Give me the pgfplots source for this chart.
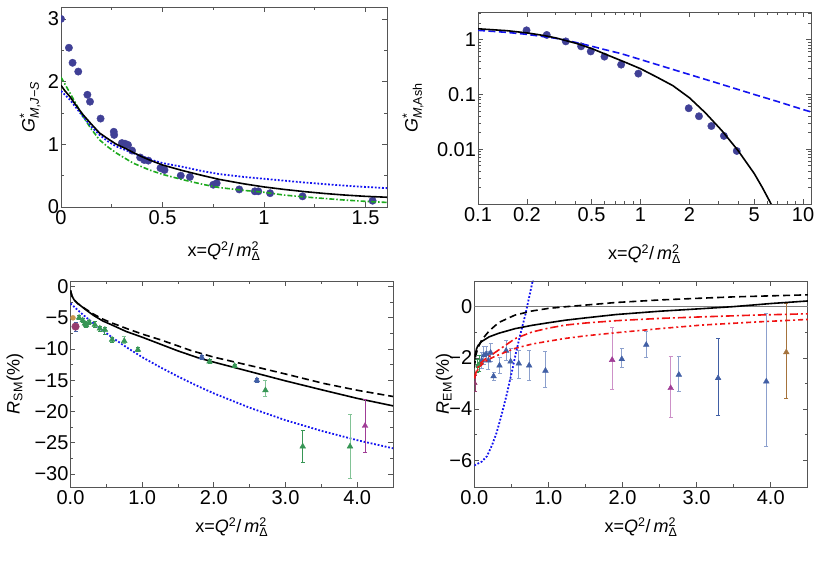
\documentclass[border=0pt]{standalone}
\usepackage{fontspec}
\setmainfont{Liberation Sans}
\usepackage{pgfplots}
\pgfplotsset{compat=1.18}
\definecolor{dotblue}{RGB}{64,64,150}
\definecolor{cgreen}{RGB}{30,170,30}
\definecolor{cblue}{RGB}{20,20,240}
\definecolor{cred}{RGB}{240,20,20}
\definecolor{framec}{RGB}{85,85,85}
\definecolor{tgreen}{RGB}{55,150,85}
\definecolor{tgreenl}{RGB}{130,195,150}
\definecolor{tblue}{RGB}{65,95,165}
\definecolor{tbluel}{RGB}{140,160,205}
\definecolor{tmag}{RGB}{160,60,150}
\definecolor{tmagl}{RGB}{205,145,200}
\definecolor{tbrown}{RGB}{165,115,60}
\definecolor{tpurp}{RGB}{150,60,110}
\definecolor{torange}{RGB}{200,150,80}
\newcommand{\scr}[1]{\mbox{\fontsize{12.5}{12.5}\selectfont #1}}
\pgfplotsset{mma/.style={scale only axis,
  axis line style={framec, line width=0.9pt},
  tick align=inside,
  every tick/.style={framec, line width=0.7pt},
  major tick length=5pt, minor tick length=3pt,
  ticklabel style={font=\fontsize{20}{20}\selectfont, text=black},
  yticklabel style={xshift=1.5pt},
  label style={font=\fontsize{18}{20}\selectfont},
  /pgf/number format/assume math mode=true,
  clip marker paths=true},
  errs/.style={error bars/.cd, y dir=both, y explicit,
    error bar style={#1, line width=1pt},
    error mark options={rotate=90, mark size=2pt, #1, line width=0.8pt}}}
\begin{document}
\begin{tikzpicture}
\path[use as bounding box] (0,0) rectangle (821pt,575pt);
% ---------------- top left
\begin{axis}[mma, at={(61pt,368pt)}, anchor=south west, width=326pt, height=200pt,
  xmin=0, xmax=1.606, ymin=0, ymax=3.19,
  xtick={0,0.5,1,1.5}, xticklabels={0,0.5,1,1.5}, minor xtick={0.25,0.75,1.25},
  ytick={0,1,2,3}, yticklabels={0,1,2,3}, minor ytick={0.5,1.5,2.5},
  xlabel={x=\textit{Q}$^{\scr{2}}$/\,\textit{m}$^{\scr{2}}_{\scr{Δ}}$},
  ylabel={\textit{G}$^{\scr{*}}_{\scr{\itshape M,J−S}}$},
  xlabel style={at={(axis description cs:0.5,-0.22)}, anchor=center},
  ylabel style={at={(axis description cs:-0.095,0.5)}, anchor=center}]
\addplot[only marks, mark=*, mark size=3.7pt, dotblue, mark options={draw=none, fill=dotblue}] coordinates {
(0,3.0)(0.039,2.54)(0.057,2.30)(0.085,2.16)(0.13,1.79)(0.143,1.68)(0.195,1.41)(0.26,1.20)(0.262,1.15)
(0.30,1.02)(0.315,1.01)(0.33,0.99)(0.35,0.90)(0.39,0.79)(0.41,0.75)(0.43,0.74)(0.49,0.62)(0.51,0.59)
(0.59,0.50)(0.635,0.48)(0.75,0.355)(0.767,0.38)(0.878,0.28)(0.955,0.25)(0.972,0.25)(1.03,0.22)(1.19,0.17)(1.535,0.10)};
\addplot[cgreen, line width=1.6pt, dash pattern=on 5pt off 2pt on 1.5pt off 2pt] coordinates {
(0,2.07)(0.044,1.82)(0.109,1.44)(0.15,1.24)(0.19,1.07)(0.23,0.96)(0.273,0.86)(0.355,0.70)(0.436,0.59)
(0.5,0.52)(0.6,0.435)(0.7,0.36)(0.78,0.31)(0.9,0.265)(1.0,0.235)(1.1,0.19)(1.2,0.16)(1.3,0.135)(1.4,0.11)(1.5,0.09)(1.61,0.072)};
\addplot[cblue, line width=1.8pt, dash pattern=on 1.8pt off 1.8pt] coordinates {
(0,1.85)(0.044,1.71)(0.109,1.44)(0.15,1.28)(0.19,1.15)(0.23,1.05)(0.273,0.965)(0.355,0.86)(0.436,0.76)
(0.5,0.70)(0.6,0.64)(0.7,0.57)(0.78,0.525)(0.9,0.48)(1.0,0.45)(1.1,0.42)(1.2,0.39)(1.3,0.365)(1.4,0.34)(1.5,0.32)(1.61,0.30)};
\addplot[black, line width=1.6pt] coordinates {
(0,1.94)(0.02,1.85)(0.044,1.76)(0.07,1.64)(0.109,1.47)(0.15,1.32)(0.19,1.18)(0.23,1.09)(0.273,1.0)
(0.32,0.93)(0.355,0.87)(0.4,0.80)(0.436,0.75)(0.5,0.67)(0.6,0.58)(0.7,0.50)(0.78,0.44)(0.9,0.37)
(1.0,0.32)(1.1,0.28)(1.2,0.245)(1.3,0.215)(1.4,0.19)(1.5,0.17)(1.61,0.155)};
\end{axis}
% ---------------- top right
\begin{axis}[mma, xmode=log, ymode=log, at={(478pt,371pt)}, anchor=south west, width=333pt, height=192pt,
  xmin=0.1, xmax=11.2, ymin=0.001, ymax=3.2,
  xtick={0.1,0.2,0.5,1,2,5,10}, xticklabels={0.1,0.2,0.5,1,2,5,10},
  minor xtick={0.3,0.4,0.6,0.7,0.8,0.9,3,4,6,7,8,9},
  ytick={0.01,0.1,1}, yticklabels={0.01,0.1,1},
  minor ytick={0.002,0.003,0.004,0.005,0.006,0.007,0.008,0.009,0.02,0.03,0.04,0.05,0.06,0.07,0.08,0.09,0.2,0.3,0.4,0.5,0.6,0.7,0.8,0.9,2,3},
  xlabel={x=\textit{Q}$^{\scr{2}}$/\,\textit{m}$^{\scr{2}}_{\scr{Δ}}$},
  ylabel={\textit{G}$^{\scr{*}}_{\scr{\itshape M}\scr{,Ash}}$},
  xlabel style={at={(axis description cs:0.5,-0.26)}, anchor=center},
  ylabel style={at={(axis description cs:-0.195,0.5)}, anchor=center}]
\addplot[only marks, mark=*, mark size=3.7pt, dotblue, mark options={draw=none, fill=dotblue}] coordinates {
(0.199,1.48)(0.265,1.22)(0.347,0.93)(0.431,0.755)(0.494,0.61)(0.60,0.49)(0.76,0.35)(0.97,0.24)
(1.98,0.056)(2.29,0.040)(2.73,0.0265)(3.26,0.0175)(3.91,0.0093)};
\addplot[cblue, line width=1.6pt, dash pattern=on 7pt off 3.5pt] coordinates {
(0.1,1.48)(0.15,1.36)(0.2,1.25)(0.3,1.06)(0.4,0.89)(0.5,0.76)(0.6,0.66)(0.76,0.556)(1.0,0.434)(1.5,0.30)
(2,0.231)(3,0.160)(5,0.100)(7,0.074)(10,0.053)(11.2,0.048)};
\addplot[black, line width=1.6pt] coordinates {
(0.1,1.58)(0.15,1.46)(0.2,1.33)(0.25,1.20)(0.3,1.08)(0.4,0.86)(0.5,0.69)(0.63,0.52)(0.8,0.39)(1.0,0.295)
(1.25,0.21)(1.58,0.145)(2.0,0.087)(2.51,0.046)(3.16,0.022)(3.98,0.0095)(5.01,0.0036)(5.62,0.0020)(6.31,0.00105)(6.6,0.0008)};
\end{axis}
% ---------------- bottom left
\begin{axis}[mma, at={(70.5pt,88pt)}, anchor=south west, width=322.5pt, height=206pt,
  xmin=0, xmax=4.5, ymin=-32.1, ymax=0.9,
  xtick={0,1,2,3,4}, xticklabels={0.0,1.0,2.0,3.0,4.0}, minor xtick={0.5,1.5,2.5,3.5},
  ytick={-30,-25,-20,-15,-10,-5,0}, yticklabels={−30,−25,−20,−15,−10,−5,0},
  minor ytick={-27.5,-22.5,-17.5,-12.5,-7.5,-2.5},
  xlabel={x=\textit{Q}$^{\scr{2}}$/\,\textit{m}$^{\scr{2}}_{\scr{Δ}}$},
  ylabel={\textit{R}$_{\scr{SM}}$(\%)},
  xlabel style={at={(axis description cs:0.5,-0.194)}, anchor=center},
  ylabel style={at={(axis description cs:-0.172,0.5)}, anchor=center}]
\addplot[cblue, line width=1.8pt, dash pattern=on 1.8pt off 1.8pt] coordinates {
(0,-2.7)(0.1,-3.75)(0.2,-4.75)(0.3,-5.7)(0.4,-6.6)(0.5,-7.45)(0.6,-8.3)(0.8,-9.85)(1.0,-11.3)(1.25,-12.9)
(1.5,-14.4)(1.75,-15.8)(2.0,-17.1)(2.5,-19.4)(3.0,-21.4)(3.5,-23.1)(4.0,-24.6)(4.5,-25.9)};
\addplot[black, line width=1.6pt, dash pattern=on 7pt off 4pt] coordinates {
(0,-0.6)(0.02,-1.5)(0.05,-2.1)(0.1,-2.7)(0.2,-3.5)(0.32,-4.4)(0.45,-5.2)(0.55,-5.7)(0.78,-6.7)(1.0,-7.6)
(1.25,-8.5)(1.5,-9.5)(1.67,-10.2)(2.0,-11.3)(2.6,-12.9)(3.0,-14.0)(3.53,-15.5)(4.0,-16.6)(4.5,-17.6)};
\addplot[black, line width=1.6pt] coordinates {
(0,-0.6)(0.02,-1.5)(0.05,-2.1)(0.1,-2.7)(0.13,-2.95)(0.2,-3.6)(0.32,-4.6)(0.45,-5.5)(0.55,-6.0)(0.78,-7.2)
(1.0,-8.1)(1.25,-9.2)(1.5,-10.3)(1.78,-11.4)(2.0,-12.1)(2.3,-13.0)(2.6,-13.9)(3.0,-15.1)(3.53,-16.6)(4.0,-17.9)(4.5,-19.1)};
\addplot[only marks, mark=triangle*, mark size=3.3pt, tgreen, errs=tgreen] coordinates {
(0.12,-4.97) +- (0,0.3) (0.17,-5.4) +- (0,0.3) (0.2,-5.9) +- (0,0.3) (0.22,-6.2) +- (0,0.3) (0.26,-5.7) +- (0,0.3)
(0.34,-6.1) +- (0,0.5) (0.41,-6.7) +- (0,0.4) (0.48,-6.9) += (0,0.3) -= (0,0.7) (0.58,-8.5) +- (0,0.4)
(0.94,-10.1) +- (0,0.3) (1.94,-12.0) +- (0,0.3) (2.29,-12.7) +- (0,0.3) (3.24,-25.6) +- (0,2.5)};
\addplot[only marks, mark=triangle*, mark size=3.3pt, tgreen, errs=tgreenl] coordinates {
(0.75,-8.7) += (0,0.7) -= (0,0.4) (2.72,-16.6) += (0,1.5) -= (0,1.0) (3.90,-25.6) += (0,5.2) -= (0,5.1)};
\addplot[only marks, mark=triangle*, mark size=3.3pt, tblue, errs=tblue] coordinates {
(1.83,-11.3) +- (0,0.3) (2.60,-15.0) +- (0,0.3)};
\addplot[only marks, mark=triangle*, mark size=3.3pt, tmag, errs=tmag] coordinates {
(4.11,-22.3) += (0,4.3) -= (0,4.2)};
\addplot[only marks, mark=*, mark size=2.5pt, torange, errs=torange] coordinates {(0.035,-5.0) +- (0,0.3)};
\addplot[only marks, mark=*, mark size=3.8pt, tpurp, errs=tblue] coordinates {(0.07,-6.4) += (0,0.7) -= (0,0.8)};
\end{axis}
% ---------------- bottom right
\begin{axis}[mma, at={(474.3pt,88pt)}, anchor=south west, width=333.5pt, height=206pt,
  xmin=0, xmax=4.5, ymin=-7.04, ymax=1.0,
  xtick={0,1,2,3,4}, xticklabels={0.0,1.0,2.0,3.0,4.0}, minor xtick={0.5,1.5,2.5,3.5},
  ytick={-6,-4,-2,0}, yticklabels={−6,−4,−2,0}, minor ytick={-5,-3,-1},
  xlabel={x=\textit{Q}$^{\scr{2}}$/\,\textit{m}$^{\scr{2}}_{\scr{Δ}}$},
  ylabel={\textit{R}$_{\scr{EM}}$(\%)},
  xlabel style={at={(axis description cs:0.5,-0.194)}, anchor=center},
  ylabel style={at={(axis description cs:-0.09,0.5)}, anchor=center}]
\addplot[gray, line width=0.8pt] coordinates {(0,0)(4.5,0)};
\addplot[only marks, mark=triangle*, mark size=3.3pt, tblue, errs=tbluel] coordinates {
(0.10,-2.1) +- (0,0.3) (0.13,-1.9) +- (0,0.35) (0.16,-1.85) +- (0,0.3) (0.19,-2.1) +- (0,0.35) (0.22,-1.8) +- (0,0.35)
(0.26,-2.72) +- (0,0.15) (0.34,-2.3) +- (0,0.3) (0.43,-1.72) += (0,0.42) -= (0,0.38) (0.49,-2.14) += (0,0.52) -= (0,0.72)
(0.60,-2.22) += (0,0.5) -= (0,0.6) (0.74,-2.3) += (0,0.6) -= (0,0.58) (0.96,-2.5) += (0,0.77) -= (0,0.66)
(1.99,-2.05) += (0,0.43) -= (0,0.33) (2.32,-1.49) += (0,0.52) -= (0,0.48) (2.76,-2.66) += (0,0.71) -= (0,0.65)
(3.94,-2.92) += (0,2.64) -= (0,2.53)};
\addplot[only marks, mark=triangle*, mark size=3.3pt, tblue, errs=tblue] coordinates {
(3.29,-2.79) += (0,1.53) -= (0,1.47)};
\addplot[only marks, mark=triangle*, mark size=3.3pt, tmag, errs=tmagl] coordinates {
(1.86,-2.08) += (0,1.26) -= (0,1.14) (2.65,-3.18) += (0,1.23) -= (0,1.13)};
\addplot[only marks, mark=triangle*, mark size=3.3pt, tbrown, errs=tbrown] coordinates {
(4.21,-1.78) += (0,1.89) -= (0,1.82)};
\addplot[only marks, mark=square*, mark size=1.5pt, tgreen, errs=tgreen] coordinates {
(0.04,-2.3) +- (0,0.25) (0.07,-2.22) +- (0,0.3)};
\addplot[only marks, mark=triangle*, mark size=2.5pt, tpurp, errs=tpurp] coordinates {(0.01,-3.0) +- (0,0.3)};
\addplot[cred, line width=1.6pt, dash pattern=on 5pt off 3pt on 2pt off 3pt] coordinates {
(0,-2.8)(0.03,-2.55)(0.07,-2.35)(0.145,-2.14)(0.25,-1.98)(0.33,-1.88)(0.55,-1.63)(0.78,-1.46)(1.0,-1.35)
(1.23,-1.24)(1.5,-1.14)(1.91,-1.02)(2.5,-0.86)(3.07,-0.72)(3.8,-0.6)(4.5,-0.5)};
\addplot[cred, line width=1.6pt, dash pattern=on 8pt off 3pt on 2pt off 3pt] coordinates {
(0,-2.8)(0.03,-2.5)(0.07,-2.25)(0.145,-2.05)(0.25,-1.85)(0.33,-1.69)(0.55,-1.25)(0.78,-0.99)(1.0,-0.84)
(1.23,-0.72)(1.5,-0.64)(1.91,-0.55)(2.5,-0.46)(3.07,-0.40)(3.8,-0.33)(4.5,-0.28)};
\addplot[cblue, line width=1.8pt, dash pattern=on 1.8pt off 1.8pt] coordinates {
(0,-6.2)(0.1,-6.05)(0.17,-5.84)(0.24,-5.4)(0.30,-4.93)(0.37,-4.2)(0.44,-3.4)(0.51,-2.5)(0.57,-1.7)
(0.62,-1.1)(0.69,-0.3)(0.78,0.9)(0.82,1.4)};
\addplot[black, line width=1.6pt, dash pattern=on 7pt off 4pt] coordinates {
(0,-2.4)(0.02,-1.9)(0.05,-1.6)(0.1,-1.3)(0.2,-0.95)(0.33,-0.62)(0.55,-0.33)(0.78,-0.17)(1.0,-0.07)
(1.25,0.0)(1.5,0.06)(1.91,0.16)(2.5,0.26)(3.07,0.33)(3.5,0.38)(4.0,0.42)(4.5,0.46)};
\addplot[black, line width=1.6pt] coordinates {
(0,-2.2)(0.01,-1.9)(0.03,-1.65)(0.05,-1.52)(0.1,-1.36)(0.145,-1.28)(0.2,-1.18)(0.33,-1.04)(0.55,-0.86)
(0.78,-0.73)(1.0,-0.63)(1.23,-0.53)(1.5,-0.44)(1.91,-0.31)(2.5,-0.18)(3.07,-0.08)(3.5,0.0)(4.0,0.12)(4.5,0.22)};
\end{axis}
\end{tikzpicture}
\end{document}
